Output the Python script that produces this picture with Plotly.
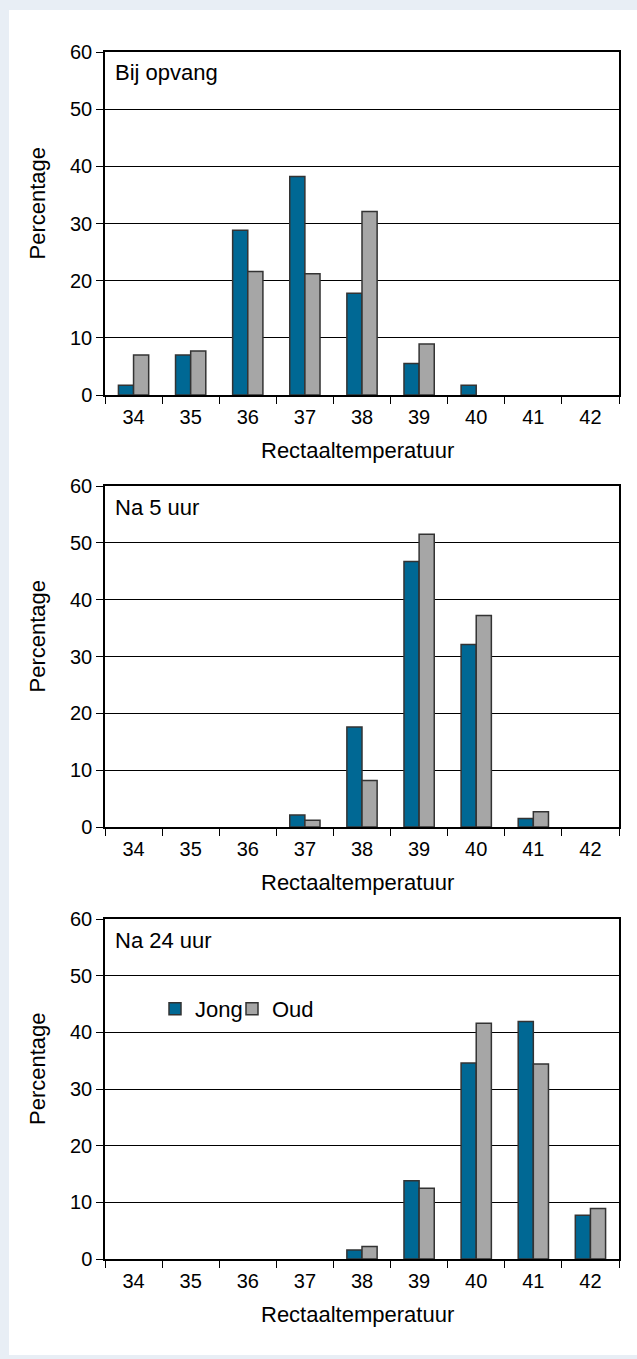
import plotly.graph_objects as go

categories = ["34", "35", "36", "37", "38", "39", "40", "41", "42"]
panel_titles = ["Bij opvang", "Na 5 uur", "Na 24 uur"]
series_names = ["Jong", "Oud"]

jong_opvang = [1.7, 7.0, 28.8, 38.2, 17.8, 5.5, 1.7, 0, 0]
oud_opvang = [7.0, 7.7, 21.6, 21.2, 32.1, 8.9, 0, 0, 0]
jong_5uur = [0, 0, 0, 2.1, 17.6, 46.7, 32.1, 1.5, 0]
oud_5uur = [0, 0, 0, 1.2, 8.2, 51.5, 37.2, 2.7, 0]
jong_24uur = [0, 0, 0, 0, 1.6, 13.8, 34.6, 41.9, 7.7]
oud_24uur = [0, 0, 0, 0, 2.2, 12.5, 41.6, 34.4, 8.9]

x_title = "Rectaaltemperatuur"
y_title = "Percentage"
y_ticks = [0, 10, 20, 30, 40, 50, 60]

W, H = 637, 1359
FONT = "Liberation Sans"
TICK_SIZE = 20
TEXT_SIZE = 22
BLUE = "#006894"
GREY = "#a6a6a6"
EDGE = "#333333"

panels = [
    (jong_opvang, oud_opvang, 52, 395),
    (jong_5uur, oud_5uur, 486, 827),
    (jong_24uur, oud_24uur, 919, 1259),
]
x_left, x_right = 105, 619


def no_zero(vals):
    # zero-height bars are not drawn in the original
    return [v if v != 0 else None for v in vals]


fig = go.Figure()
annotations = []
layout = {}
for i, (jong, oud, top, bottom) in enumerate(panels):
    n = i + 1
    xa = "x" if n == 1 else f"x{n}"
    ya = "y" if n == 1 else f"y{n}"
    for vals, name, col, leg in ((jong, series_names[0], BLUE, "legend"),
                                 (oud, series_names[1], GREY, "legend2")):
        fig.add_trace(go.Bar(
            x=categories, y=no_zero(vals), name=name, xaxis=xa, yaxis=ya,
            marker=dict(color=col, line=dict(color=EDGE, width=1.5)),
            showlegend=(n == 3), legendgroup=name, legend=leg,
            hoverinfo="x+y+name",
        ))
    ydom = [1 - bottom / H, 1 - top / H]
    layout[f"xaxis{'' if n == 1 else n}"] = dict(
        domain=[x_left / W, x_right / W], anchor=ya, type="category",
        showline=True, linecolor="black", linewidth=1.5, mirror=True,
        ticks="outside", ticklen=7, tickcolor="black", tickwidth=1.2,
        tickson="boundaries", showgrid=False, automargin=False,
        ticklabelstandoff=3,
        tickfont=dict(family=FONT, size=TICK_SIZE, color="black"),
        range=[-0.5, 8.5], fixedrange=True,
    )
    layout[f"yaxis{'' if n == 1 else n}"] = dict(
        domain=ydom, anchor=xa, range=[0, 60], tickvals=y_ticks,
        showline=True, linecolor="black", linewidth=1.5, mirror=True,
        ticks="outside", ticklen=7, tickcolor="black", tickwidth=1.2,
        showgrid=True, gridcolor="black", gridwidth=1,
        zeroline=False, automargin=False,
        tickfont=dict(family=FONT, size=TICK_SIZE, color="black"),
        fixedrange=True,
    )
    annotations.append(dict(
        text=panel_titles[i], xref="paper", yref="paper",
        x=113 / W, y=1 - (top + 21) / H, xanchor="left", yanchor="middle",
        showarrow=False, font=dict(family=FONT, size=TEXT_SIZE, color="black"),
    ))
    annotations.append(dict(
        text=x_title, xref="paper", yref="paper",
        x=357 / W, y=1 - (bottom + 55) / H,
        xanchor="center", yanchor="middle",
        showarrow=False, font=dict(family=FONT, size=TEXT_SIZE, color="black"),
    ))
    annotations.append(dict(
        text=y_title, xref="paper", yref="paper",
        x=37 / W, y=1 - ((top + bottom) / 2 - 20) / H,
        xanchor="center", yanchor="middle", textangle=-90,
        showarrow=False, font=dict(family=FONT, size=TEXT_SIZE, color="black"),
    ))

legend_common = dict(orientation="h", xanchor="left", yanchor="middle",
                     bgcolor="rgba(0,0,0,0)", itemwidth=30,
                     font=dict(family=FONT, size=TEXT_SIZE, color="black"))

fig.update_layout(
    template="none",
    width=W, height=H,
    margin=dict(l=0, r=0, t=0, b=0, pad=0, autoexpand=False),
    paper_bgcolor="#e8eef5", plot_bgcolor="rgba(0,0,0,0)",
    barmode="group", bargap=0.47, bargroupgap=0,
    annotations=annotations,
    shapes=[dict(type="rect", xref="paper", yref="paper", layer="below",
                 x0=9 / W, x1=1, y0=1 - 1355 / H, y1=1 - 10 / H,
                 fillcolor="white", line=dict(width=0))],
    legend=dict(x=155 / W, y=1 - 1009 / H, **legend_common),
    legend2=dict(x=232 / W, y=1 - 1009 / H, **legend_common),
    font=dict(family=FONT, size=TEXT_SIZE, color="black"),
    **layout,
)

fig.write_html("out.html", config={"displayModeBar": False},
               post_script="document.body.style.margin='0px';")
